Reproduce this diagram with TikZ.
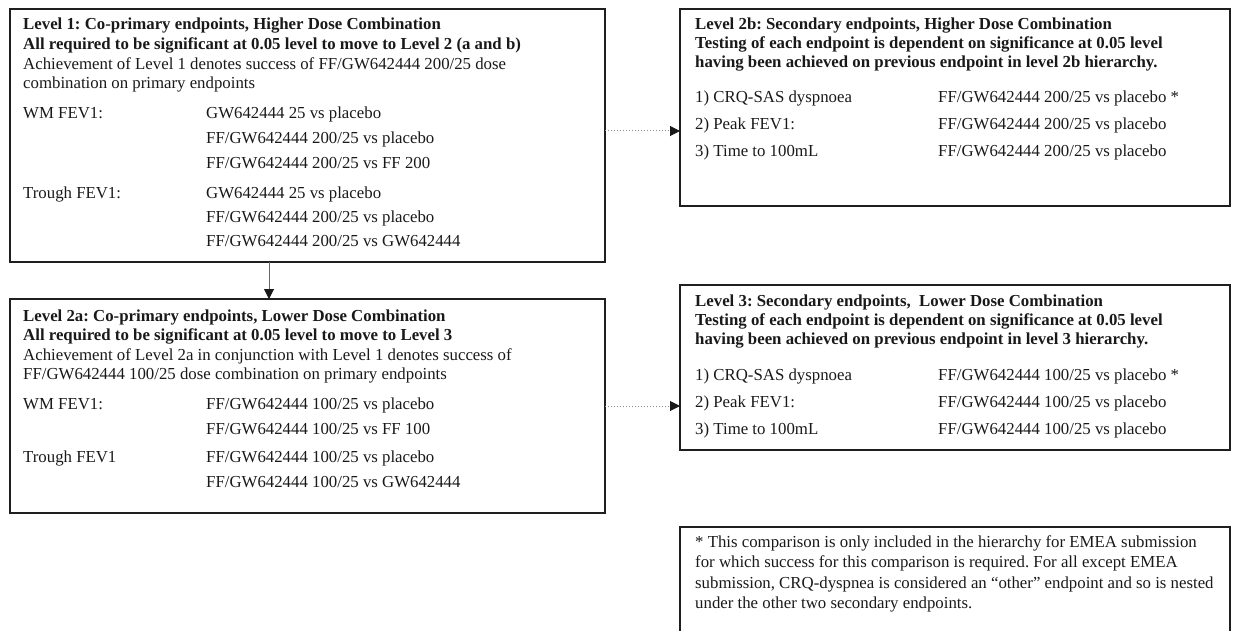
\documentclass[tikz,border=0pt]{standalone}
\usepackage{fontspec}
\setmainfont{Liberation Serif}
\usetikzlibrary{arrows.meta,calc}
\frenchspacing
\begin{document}
\begin{tikzpicture}[x=1pt,y=-1pt,
  box/.style={draw=black!88, line width=1.3pt, anchor=north west, inner sep=0pt, outer sep=0pt},
  hd/.style={anchor=base west, inner sep=0pt, font=\fontsize{16.8}{19}\selectfont\bfseries, text=black!90},
  tx/.style={anchor=base west, inner sep=0pt, font=\fontsize{16.8}{19}\selectfont, text=black!90},
  tipA/.style={-{Triangle[length=10pt,width=10pt,color=black!90]}},
  arrsolid/.style={draw=black!60, line width=1pt, tipA},
  arrdot/.style={draw=black!45, line width=1pt, dotted, tipA}
]
\useasboundingbox (0,0) rectangle (1233,631);

% boxes
\node[box, minimum width=595pt, minimum height=253pt] (b1) at (10,9) {};
\node[box, minimum width=595pt, minimum height=214pt] (b2a) at (10,299) {};
\node[box, minimum width=550pt, minimum height=197pt] (b2b) at (680,9) {};
\node[box, minimum width=550pt, minimum height=165pt] (b3) at (680,285) {};
\node[box, minimum width=550pt, minimum height=107pt] (fn) at (680,527) {};

% Level 1
\node[hd] (l1h1) at (23,30) {Level 1: Co-primary endpoints, Higher Dose Combination};
\node[hd] (l1h2) at (23,50) {All required to be significant at 0.05 level to move to Level 2 (a and b)};
\node[tx] (l1t1) at (23,70) {Achievement of Level 1 denotes success of FF/GW642444 200/25 dose};
\node[tx] (l1t2) at (23,89) {combination on primary endpoints};
\node[tx] (l1w) at (23,119) {WM FEV1:};
\node[tx] (l1w1) at (206,119) {GW642444 25 vs placebo};
\node[tx] (l1w2) at (206,144) {FF/GW642444 200/25 vs placebo};
\node[tx] (l1w3) at (206,168) {FF/GW642444 200/25 vs FF 200};
\node[tx] (l1r) at (23,198) {Trough FEV1:};
\node[tx] (l1r1) at (206,198) {GW642444 25 vs placebo};
\node[tx] (l1r2) at (206,222) {FF/GW642444 200/25 vs placebo};
\node[tx] (l1r3) at (206,246) {FF/GW642444 200/25 vs GW642444};

% Level 2a
\node[hd] (l2h1) at (23,321) {Level 2a: Co-primary endpoints, Lower Dose Combination};
\node[hd] (l2h2) at (23,340) {All required to be significant at 0.05 level to move to Level 3};
\node[tx] (l2t1) at (23,360) {Achievement of Level 2a in conjunction with Level 1 denotes success of};
\node[tx] (l2t2) at (23,379) {FF/GW642444 100/25 dose combination on primary endpoints};
\node[tx] (l2w) at (23,409) {WM FEV1:};
\node[tx] (l2w1) at (206,409) {FF/GW642444 100/25 vs placebo};
\node[tx] (l2w2) at (206,434) {FF/GW642444 100/25 vs FF 100};
\node[tx] (l2r) at (23,462) {Trough FEV1};
\node[tx] (l2r1) at (206,462) {FF/GW642444 100/25 vs placebo};
\node[tx] (l2r2) at (206,487) {FF/GW642444 100/25 vs GW642444};

% Level 2b
\node[hd] (l2bh1) at (695,30) {Level 2b: Secondary endpoints, Higher Dose Combination};
\node[hd] (l2bh2) at (695,49) {Testing of each endpoint is dependent on significance at 0.05 level};
\node[hd] (l2bh3) at (695,68) {having been achieved on previous endpoint in level 2b hierarchy.};
\node[tx] (l2bc1) at (695,103) {1) CRQ-SAS dyspnoea};
\node[tx] (l2bd1) at (938,103) {FF/GW642444 200/25 vs placebo *};
\node[tx] (l2bc2) at (695,130) {2) Peak FEV1:};
\node[tx] (l2bd2) at (938,130) {FF/GW642444 200/25 vs placebo};
\node[tx] (l2bc3) at (695,157) {3) Time to 100mL};
\node[tx] (l2bd3) at (938,157) {FF/GW642444 200/25 vs placebo};

% Level 3
\node[hd] (l3h1) at (695,306) {Level 3: Secondary endpoints,\ \ Lower Dose Combination};
\node[hd] (l3h2) at (695,325) {Testing of each endpoint is dependent on significance at 0.05 level};
\node[hd] (l3h3) at (695,344) {having been achieved on previous endpoint in level 3 hierarchy.};
\node[tx] (l3c1) at (695,380) {1) CRQ-SAS dyspnoea};
\node[tx] (l3d1) at (938,380) {FF/GW642444 100/25 vs placebo *};
\node[tx] (l3c2) at (695,407) {2) Peak FEV1:};
\node[tx] (l3d2) at (938,407) {FF/GW642444 100/25 vs placebo};
\node[tx] (l3c3) at (695,434) {3) Time to 100mL};
\node[tx] (l3d3) at (938,434) {FF/GW642444 100/25 vs placebo};

% footnote
\node[tx] (fn1) at (695,547) {* This comparison is only included in the hierarchy for EMEA submission};
\node[tx] (fn2) at (695,567) {for which success for this comparison is required. For all except EMEA};
\node[tx] (fn3) at (695,588) {submission, CRQ-dyspnea is considered an “other” endpoint and so is nested};
\node[tx] (fn4) at (695,608) {under the other two secondary endpoints.};

% connectors
\coordinate (ax) at (269,0);
\coordinate (ay) at (0,131);
\draw[arrsolid] (ax |- b1.south) -- (ax |- b2a.north);
\draw[arrdot] (b1.east |- ay) -- (b2b.west |- ay);
\draw[arrdot] (b2a.east) -- (b2a.east -| b3.west);
\end{tikzpicture}
\end{document}
